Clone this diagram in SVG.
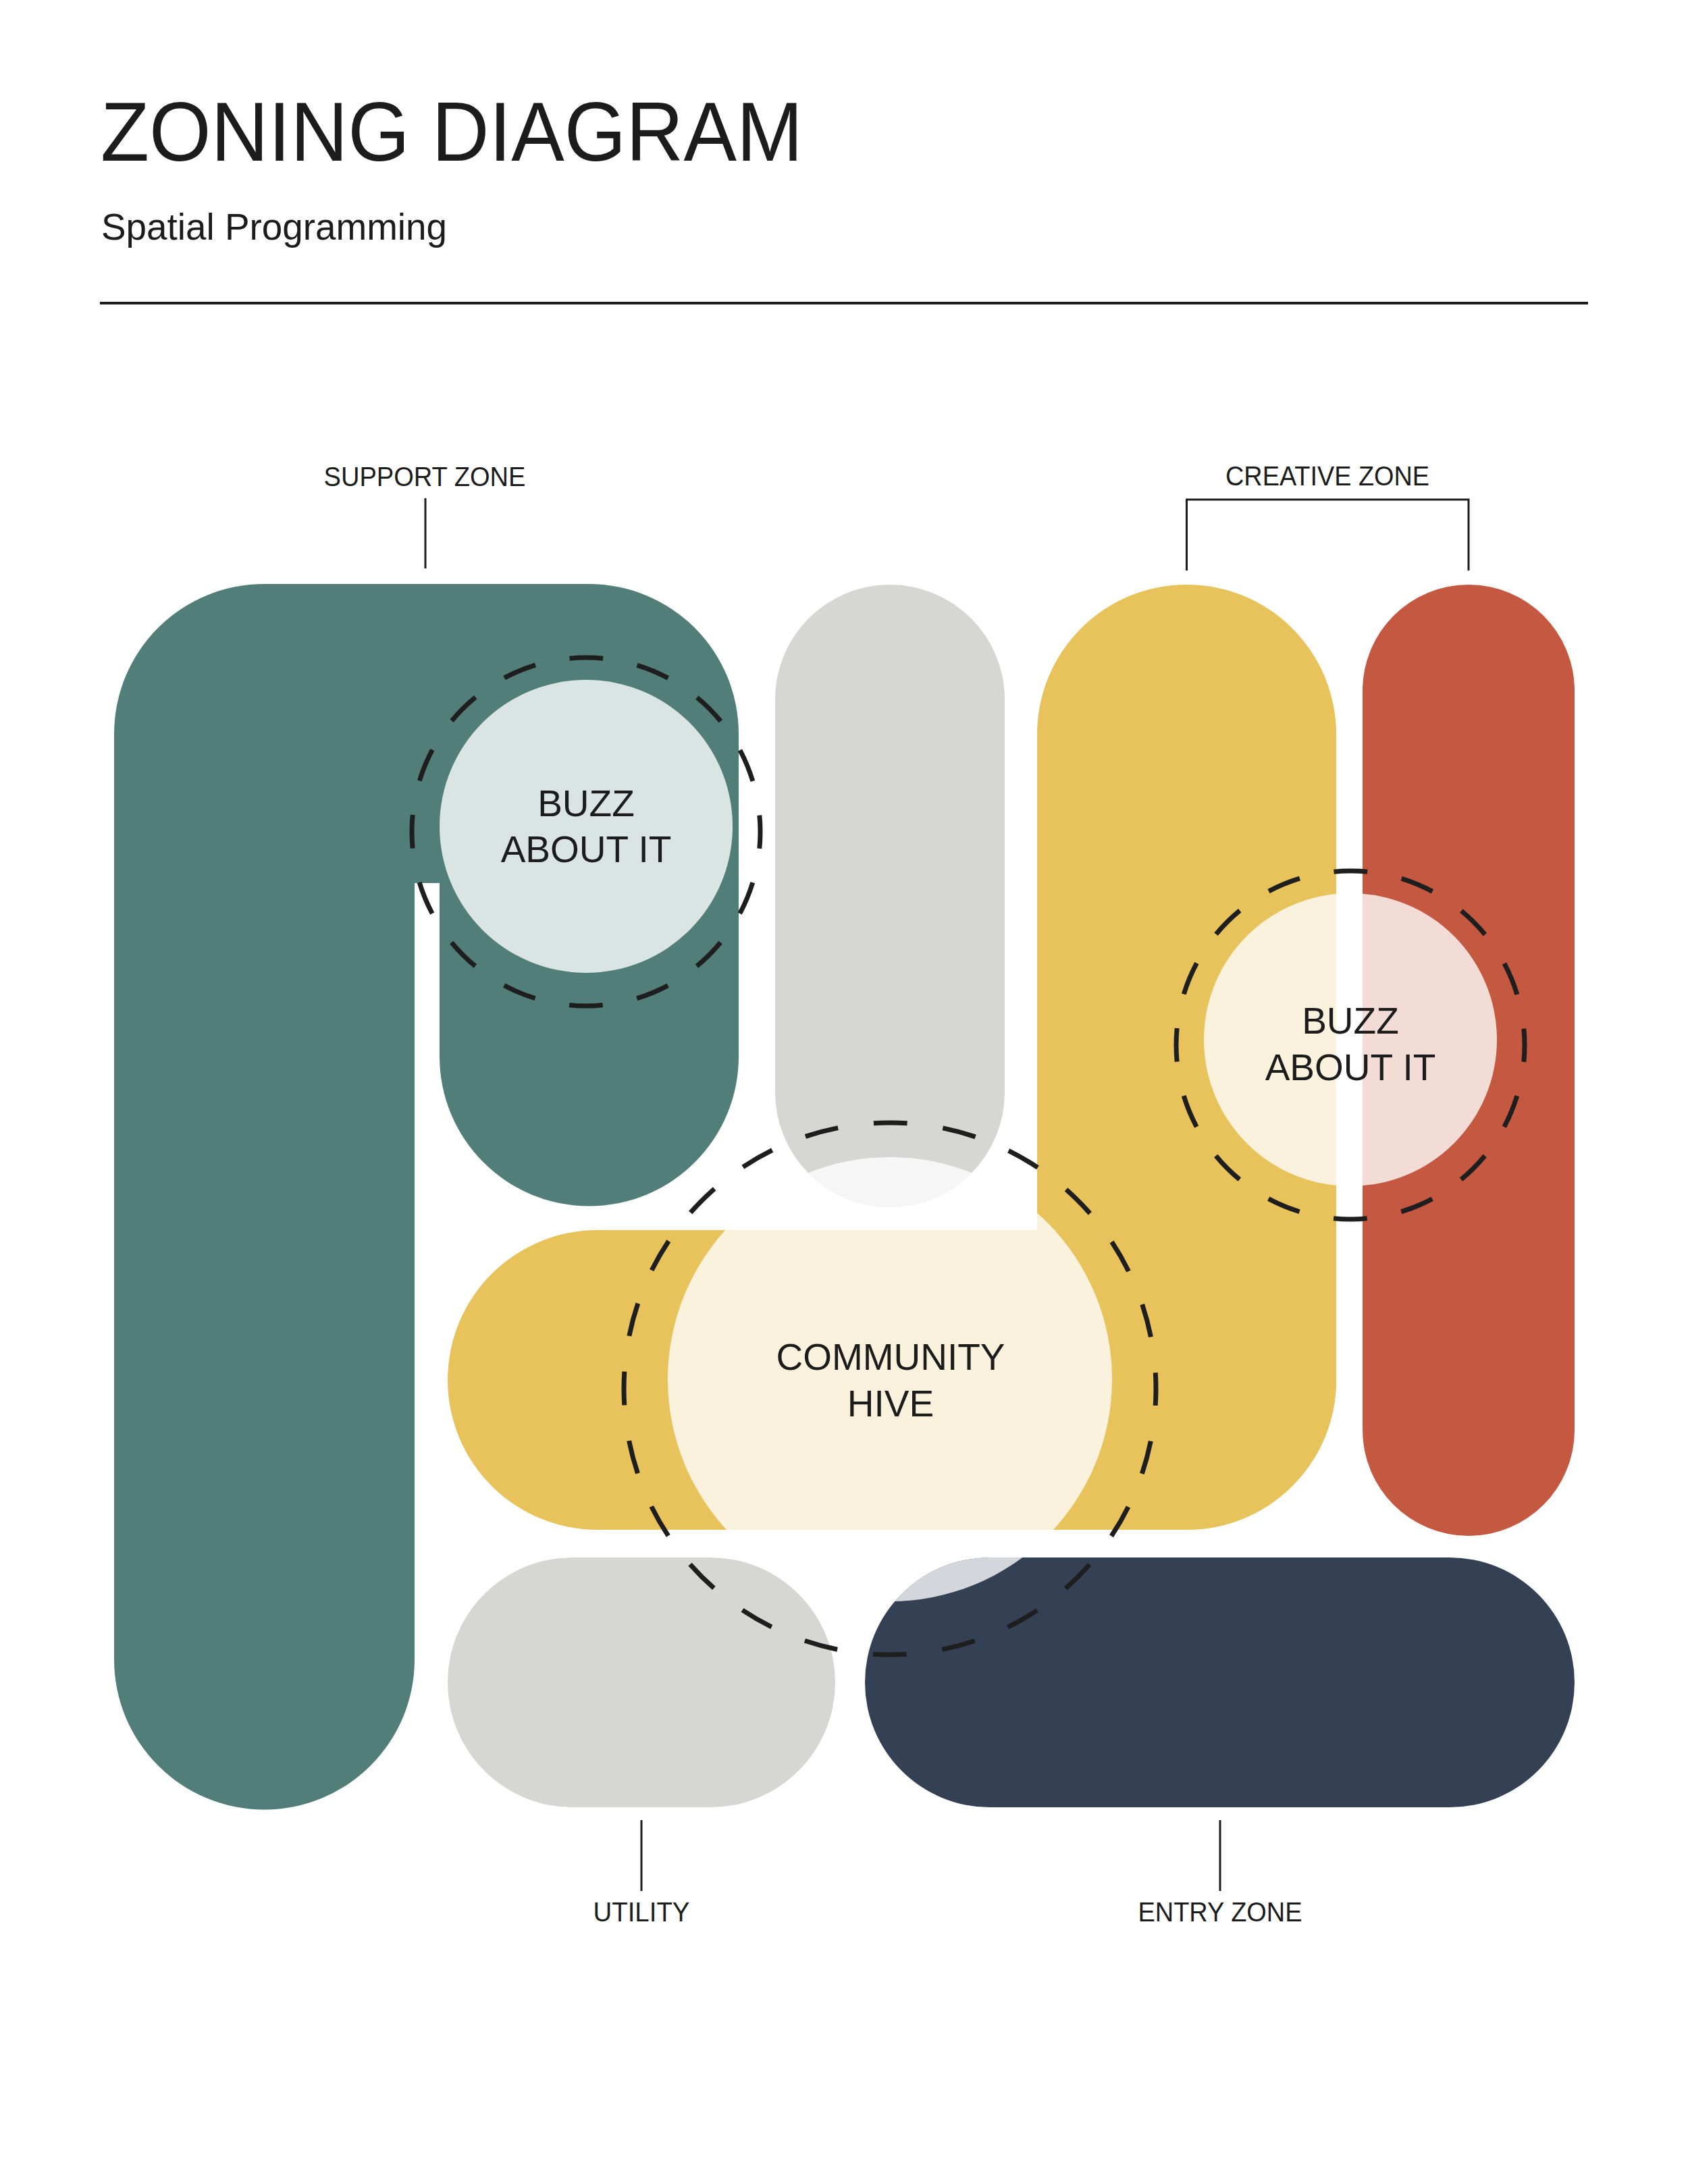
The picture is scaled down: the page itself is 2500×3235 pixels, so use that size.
<svg xmlns="http://www.w3.org/2000/svg" xmlns:xlink="http://www.w3.org/1999/xlink" width="2500" height="3235" viewBox="0 0 2500 3235">
<style>
  .t { font-family: "Liberation Sans", Arial, sans-serif; fill: #1c1c1c; text-anchor: middle; }
  .lbl { font-size: 41px; }
  .in { font-size: 55px; }
  .lead { fill: none; stroke: #1c1c1c; stroke-width: 3; }
  .dash { fill: none; stroke: #1e1e1e; stroke-width: 7; }
  .glow { fill: #ffffff; fill-opacity: 0.79; }
  .teal { fill: #517e78; }
  .yellow { fill: #e8c35c; }
  .grey { fill: #d6d6d5; }
  .orange { fill: #c45841; }
  .navy { fill: #344154; }
</style>
<defs>
  <path id="shape-support" d="M169,1087 A222,222 0 0 1 391,865 L872,865 A222,222 0 0 1 1094,1087 L1094,1565 A221.5,221.5 0 0 1 651,1565 L651,1308 L614,1308 L614,2458 A222.5,222.5 0 0 1 169,2458 Z"/>
  <rect id="shape-grey-top" x="1148" y="866" width="340" height="922" rx="170"/>
  <rect id="shape-creative-yellow" x="1536" y="866" width="443" height="1400" rx="221.5"/>
  <rect id="shape-hive-yellow" x="663" y="1822" width="1316" height="444" rx="222"/>
  <rect id="shape-creative-orange" x="2018" y="866" width="314" height="1409" rx="157"/>
  <rect id="shape-utility" x="663" y="2307" width="574" height="370" rx="185"/>
  <rect id="shape-entry" x="1281" y="2307" width="1051" height="370" rx="185"/>
  <clipPath id="zones">
    <use xlink:href="#shape-support"/>
    <use xlink:href="#shape-grey-top"/>
    <use xlink:href="#shape-creative-yellow"/>
    <use xlink:href="#shape-hive-yellow"/>
    <use xlink:href="#shape-creative-orange"/>
    <use xlink:href="#shape-utility"/>
    <use xlink:href="#shape-entry"/>
  </clipPath>
</defs>
<rect x="0" y="0" width="2500" height="3235" fill="#ffffff"/>

<g id="header">
  <text class="t" x="149" y="238" font-size="124" text-anchor="start" style="text-anchor:start" textLength="1040" lengthAdjust="spacingAndGlyphs">ZONING DIAGRAM</text>
  <text class="t" x="150" y="355" font-size="55" style="text-anchor:start" textLength="512" lengthAdjust="spacingAndGlyphs">Spatial Programming</text>
  <line x1="148" y1="449" x2="2352" y2="449" stroke="#1c1c1c" stroke-width="4"/>
</g>

<g id="support-zone">
  <use xlink:href="#shape-support" class="teal"/>
</g>
<g id="grey-zone">
  <use xlink:href="#shape-grey-top" class="grey"/>
</g>
<g id="creative-zone">
  <use xlink:href="#shape-creative-yellow" class="yellow"/>
  <use xlink:href="#shape-creative-orange" class="orange"/>
</g>
<g id="hive-band">
  <use xlink:href="#shape-hive-yellow" class="yellow"/>
</g>
<g id="utility">
  <use xlink:href="#shape-utility" class="grey"/>
</g>
<g id="entry-zone">
  <use xlink:href="#shape-entry" class="navy"/>
</g>

<g id="buzz-about-it-1">
  <circle class="glow" cx="868" cy="1224" r="217" clip-path="url(#zones)"/>
  <circle class="dash" cx="868" cy="1232" r="258" stroke-dasharray="49.7 51.6" stroke-dashoffset="24.85"/>
  <text class="t in" x="868" y="1209">BUZZ</text>
  <text class="t in" x="868" y="1277">ABOUT IT</text>
</g>
<g id="buzz-about-it-2">
  <circle class="glow" cx="2000" cy="1540" r="217" clip-path="url(#zones)"/>
  <circle class="dash" cx="2000" cy="1548" r="258" stroke-dasharray="49.7 51.6" stroke-dashoffset="24.85"/>
  <text class="t in" x="2000" y="1531">BUZZ</text>
  <text class="t in" x="2000" y="1600">ABOUT IT</text>
</g>
<g id="community-hive">
  <circle class="glow" cx="1318" cy="2043" r="329" clip-path="url(#zones)"/>
  <circle class="dash" cx="1318" cy="2057" r="394" stroke-dasharray="50 53.15" stroke-dashoffset="25"/>
  <text class="t in" x="1319" y="2029">COMMUNITY</text>
  <text class="t in" x="1319" y="2098">HIVE</text>
</g>

<g id="connectors">
  <line class="lead" x1="630" y1="738" x2="630" y2="842"/>
  <polyline class="lead" points="1757.5,845 1757.5,740 2175,740 2175,845"/>
  <line class="lead" x1="950" y1="2696" x2="950" y2="2801"/>
  <line class="lead" x1="1807" y1="2696" x2="1807" y2="2801"/>
</g>

<g id="labels">
  <text class="t lbl" x="629" y="720" textLength="299" lengthAdjust="spacingAndGlyphs">SUPPORT ZONE</text>
  <text class="t lbl" x="1966" y="719" textLength="302" lengthAdjust="spacingAndGlyphs">CREATIVE ZONE</text>
  <text class="t lbl" x="950" y="2846" textLength="143" lengthAdjust="spacingAndGlyphs">UTILITY</text>
  <text class="t lbl" x="1807" y="2846" textLength="243" lengthAdjust="spacingAndGlyphs">ENTRY ZONE</text>
</g>
</svg>
